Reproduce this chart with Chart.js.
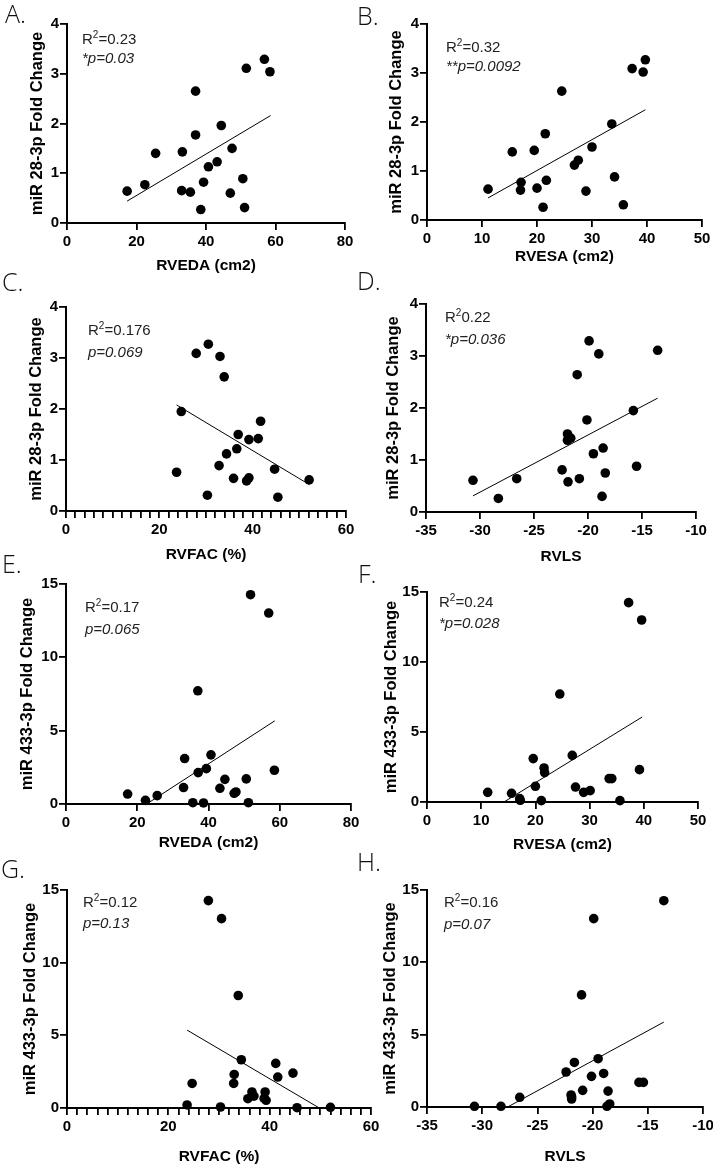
<!DOCTYPE html>
<html>
<head>
<meta charset="utf-8">
<script src="https://cdn.jsdelivr.net/npm/chart.js@4/dist/chart.umd.min.js"></script>
<style>
  body { margin: 0; background: #fff; }
  #page { position: relative; width: 713px; height: 1166px; overflow: hidden; }
  .plot { position: absolute; }
  .tag { position: absolute; font-family: "Open Sans", sans-serif; font-weight: 300; font-size: 25px; line-height: 25px; color: #111; }
  .note { position: absolute; font-family: "Liberation Sans", Arial, sans-serif; font-size: 15px; line-height: 15px; color: #222; white-space: nowrap; }
  .note i { font-style: italic; }
  .sup { font-size: 10px; position: relative; top: -6px; }
</style>
</head>
<body>
<div id="page"></div>
<script>
// A: miR 28-3p vs RVEDA
const rvedaA = [17.3, 22.4, 25.5, 33.2, 33.0, 35.5, 37.0, 37.0, 38.5, 39.3, 40.7, 43.2, 44.4, 47.0, 47.5, 50.6, 51.1, 51.6, 56.8, 58.4];
const mir28A = [0.64, 0.77, 1.40, 1.43, 0.65, 0.62, 2.65, 1.77, 0.27, 0.82, 1.13, 1.23, 1.96, 0.60, 1.50, 0.89, 0.31, 3.11, 3.29, 3.04];
const fitAx = [17.3, 58.6];
const fitAy = [0.44, 2.16];

// B: miR 28-3p vs RVESA
const rvesaB = [11.1, 15.5, 17.1, 17.0, 19.5, 20.0, 21.1, 21.5, 21.7, 24.5, 26.8, 27.5, 28.9, 30.0, 33.6, 34.1, 35.7, 37.3, 39.3, 39.7];
const mir28B = [0.63, 1.39, 0.77, 0.61, 1.42, 0.65, 0.26, 1.76, 0.81, 2.63, 1.12, 1.22, 0.59, 1.49, 1.96, 0.88, 0.31, 3.09, 3.02, 3.27];
const fitBx = [11.1, 39.7];
const fitBy = [0.45, 2.25];

// C: miR 28-3p vs RVFAC
const rvfacC = [23.7, 24.7, 27.9, 30.5, 30.3, 33.0, 32.8, 33.9, 34.4, 35.9, 36.6, 36.9, 38.7, 39.2, 39.2, 41.2, 41.7, 44.7, 45.4, 52.1];
const mir28C = [0.76, 1.95, 3.09, 3.27, 0.31, 3.03, 0.89, 2.63, 1.12, 0.64, 1.22, 1.50, 0.59, 0.65, 1.40, 1.42, 1.76, 0.82, 0.27, 0.61];
const fitCx = [23.7, 52.1];
const fitCy = [2.08, 0.52];

// D: miR 28-3p vs RVLS
const rvlsD = [-30.65, -28.3, -26.6, -22.4, -21.9, -21.9, -21.6, -21.85, -21.0, -20.8, -20.1, -19.9, -19.5, -19.0, -18.6, -18.7, -18.4, -15.8, -15.5, -13.55];
const mir28D = [0.61, 0.26, 0.64, 0.81, 1.50, 1.38, 1.42, 0.58, 2.64, 0.64, 1.77, 3.29, 1.12, 3.04, 1.23, 0.30, 0.75, 1.95, 0.88, 3.11];
const fitDx = [-30.65, -13.55];
const fitDy = [0.31, 2.19];

// E: miR 433-3p vs RVEDA
const rvedaE = [17.3, 22.3, 25.6, 33.3, 33.0, 35.6, 37.0, 37.1, 38.6, 39.4, 40.7, 43.2, 44.6, 47.2, 47.7, 50.6, 51.2, 51.8, 56.9, 58.5];
const mir433E = [0.68, 0.25, 0.57, 3.10, 1.12, 0.09, 7.72, 2.14, 0.07, 2.41, 3.35, 1.07, 1.68, 0.73, 0.82, 1.71, 0.09, 14.27, 13.02, 2.30];
const fitEx = [23.1, 58.6];
const fitEy = [0.07, 5.67];

// F: miR 433-3p vs RVESA
const rvesaF = [11.2, 15.6, 17.1, 17.2, 19.6, 20.0, 21.1, 21.6, 21.7, 24.5, 26.8, 27.4, 28.9, 30.1, 33.6, 34.1, 35.6, 37.2, 39.2, 39.6];
const mir433F = [0.69, 0.62, 0.24, 0.12, 3.10, 1.12, 0.10, 2.43, 2.10, 7.71, 3.33, 1.07, 0.69, 0.81, 1.67, 1.67, 0.10, 14.24, 2.31, 13.0];
const fitFx = [14.2, 39.7];
const fitFy = [0.0, 6.07];

// G: miR 433-3p vs RVFAC
const rvfacG = [23.7, 24.7, 27.9, 30.3, 30.5, 32.9, 33.0, 33.8, 34.4, 35.7, 36.5, 36.9, 38.9, 39.1, 39.3, 41.2, 41.6, 44.6, 45.4, 52.0];
const mir433G = [0.21, 1.69, 14.27, 0.07, 13.03, 1.69, 2.31, 7.74, 3.32, 0.64, 1.10, 0.82, 0.66, 1.10, 0.53, 3.07, 2.13, 2.40, 0.02, 0.05];
const fitGx = [23.7, 49.8];
const fitGy = [5.36, 0.0];

// H: miR 433-3p vs RVLS
const rvlsH = [-30.7, -28.3, -26.6, -22.4, -21.95, -21.9, -21.9, -21.65, -20.9, -21.0, -20.1, -19.9, -19.5, -19.0, -18.6, -18.7, -18.45, -15.8, -15.4, -13.55];
const mir433H = [0.05, 0.05, 0.67, 2.42, 0.83, 0.55, 0.70, 3.08, 1.15, 7.75, 2.12, 13.02, 3.34, 2.32, 1.10, 0.05, 0.21, 1.70, 1.70, 14.26];
const fitHx = [-27.7, -13.55];
const fitHy = [0.0, 5.87];

const yTitle28 = 'miR 28-3p Fold Change';
const yTitle433 = 'miR 433-3p Fold Change';

// panel setup: data + axis ranges, then where the plot area sits on the page
const panels = [
  { tag: 'A.', x: rvedaA, y: mir28A, fx: fitAx, fy: fitAy, xr: [0, 80, 20, 20], yr: [4, 1], xt: 'RVEDA (cm2)', yt: yTitle28,
    r2: '=0.23', p: '*p=0.03', box: [67, 345, 24, 223], ytx: 38, xto: 43, tagAt: [5, 1], noteAt: [82, 44, 63] },
  { tag: 'B.', x: rvesaB, y: mir28B, fx: fitBx, fy: fitBy, xr: [0, 50, 10, 10], yr: [4, 1], xt: 'RVESA (cm2)', yt: yTitle28,
    r2: '=0.32', p: '**p=0.0092', box: [427, 702, 24, 220], ytx: 397, xto: 37, tagAt: [357, 3], noteAt: [446, 52, 71] },
  { tag: 'C.', x: rvfacC, y: mir28C, fx: fitCx, fy: fitCy, xr: [0, 60, 2, 20], yr: [4, 1], xt: 'RVFAC (%)', yt: yTitle28,
    r2: '=0.176', p: 'p=0.069', box: [66, 346, 307, 511], ytx: 37, xto: 44, tagAt: [2, 269], noteAt: [88, 335, 357] },
  { tag: 'D.', x: rvlsD, y: mir28D, fx: fitDx, fy: fitDy, xr: [-35, -10, 5, 5], yr: [4, 1], xt: 'RVLS', yt: yTitle28,
    r2: '0.22', p: '*p=0.036', box: [426, 696, 304, 512], ytx: 394, xto: 45, tagAt: [357, 268], noteAt: [445, 322, 344] },
  { tag: 'E.', x: rvedaE, y: mir433E, fx: fitEx, fy: fitEy, xr: [0, 80, 20, 20], yr: [15, 5], xt: 'RVEDA (cm2)', yt: yTitle433,
    r2: '=0.17', p: 'p=0.065', box: [66, 351, 584, 804], ytx: 28, xto: 39, tagAt: [2, 551], noteAt: [85, 612, 634] },
  { tag: 'F.', x: rvesaF, y: mir433F, fx: fitFx, fy: fitFy, xr: [0, 50, 10, 10], yr: [15, 5], xt: 'RVESA (cm2)', yt: yTitle433,
    r2: '=0.24', p: '*p=0.028', box: [427, 698, 592, 802], ytx: 392, xto: 43, tagAt: [358, 561], noteAt: [439, 607, 628] },
  { tag: 'G.', x: rvfacG, y: mir433G, fx: fitGx, fy: fitGy, xr: [0, 60, 2, 20], yr: [15, 5], xt: 'RVFAC (%)', yt: yTitle433,
    r2: '=0.12', p: 'p=0.13', box: [67, 371, 890, 1108], ytx: 31, xto: 49, tagAt: [1, 856], noteAt: [83, 907, 928] },
  { tag: 'H.', x: rvlsH, y: mir433H, fx: fitHx, fy: fitHy, xr: [-35, -10, 5, 5], yr: [15, 5], xt: 'RVLS', yt: yTitle433,
    r2: '=0.16', p: 'p=0.07', box: [427, 703, 890, 1107], ytx: 391, xto: 50, tagAt: [357, 849], noteAt: [444, 907, 929] }
];

const FONT = '"Liberation Sans", Arial, sans-serif';
const page = document.getElementById('page');

function addPanel(p) {
  const [L, R, T, B] = p.box;
  const yTitleSize = 16.5;
  const yw = Math.round(L - p.ytx + yTitleSize * 0.6 + 4);
  const xh = p.xto + 9 + 4;
  const padTop = 12, padRight = 18;

  const wrap = document.createElement('div');
  wrap.className = 'plot';
  wrap.style.left = (L - yw) + 'px';
  wrap.style.top = (T - padTop) + 'px';
  wrap.style.width = (yw + (R - L) + padRight) + 'px';
  wrap.style.height = (padTop + (B - T) + xh) + 'px';
  const cv = document.createElement('canvas');
  wrap.appendChild(cv);
  page.appendChild(wrap);

  const pts = p.x.map((v, i) => ({ x: v, y: p.y[i] }));
  const fit = p.fx.map((v, i) => ({ x: v, y: p.fy[i] }));
  const [xMin, xMax, xStep, xLabelEvery] = p.xr;

  new Chart(cv, {
    type: 'scatter',
    data: {
      datasets: [
        { data: fit, showLine: true, borderColor: '#000', borderWidth: 1, pointRadius: 0, clip: false },
        { data: pts, backgroundColor: '#000', borderColor: '#000', pointRadius: 4.8, borderWidth: 0, clip: false }
      ]
    },
    options: {
      responsive: true,
      maintainAspectRatio: false,
      animation: false,
      layout: { padding: { top: padTop, right: padRight, left: 0, bottom: 0 } },
      plugins: { legend: { display: false }, tooltip: { enabled: false } },
      scales: {
        x: {
          type: 'linear', min: xMin, max: xMax,
          afterFit: s => { s.height = xh; },
          ticks: {
            stepSize: xStep, autoSkip: false, maxRotation: 0, padding: 3, color: '#000',
            font: { family: FONT, size: 15, weight: 'bold' },
            callback: v => (Math.abs(v % xLabelEvery) < 1e-6 ? v : '')
          },
          grid: { drawOnChartArea: false, color: '#000', lineWidth: 1.8, tickLength: 7 },
          border: { color: '#000', width: 2 },
          title: { display: true, text: p.xt, color: '#000', padding: 4, font: { family: FONT, size: 15.5, weight: 'bold' } }
        },
        y: {
          min: 0, max: p.yr[0],
          afterFit: s => { s.width = yw; },
          ticks: { stepSize: p.yr[1], padding: 1, color: '#000', font: { family: FONT, size: 15, weight: 'bold' } },
          grid: { drawOnChartArea: false, color: '#000', lineWidth: 1.8, tickLength: 7 },
          border: { color: '#000', width: 2 },
          title: { display: true, text: p.yt, color: '#000', padding: 4, font: { family: FONT, size: yTitleSize, weight: 'bold' } }
        }
      }
    }
  });

  const tag = document.createElement('div');
  tag.className = 'tag';
  tag.textContent = p.tag;
  tag.style.left = p.tagAt[0] + 'px';
  tag.style.top = p.tagAt[1] + 'px';
  page.appendChild(tag);

  const [nx, b1, b2] = p.noteAt;
  const n1 = document.createElement('div');
  n1.className = 'note';
  n1.innerHTML = 'R<span class="sup">2</span>' + p.r2;
  n1.style.left = nx + 'px';
  n1.style.top = (b1 - 13) + 'px';
  page.appendChild(n1);
  const n2 = document.createElement('div');
  n2.className = 'note';
  n2.innerHTML = '<i>' + p.p + '</i>';
  n2.style.left = nx + 'px';
  n2.style.top = (b2 - 13) + 'px';
  page.appendChild(n2);
}

panels.forEach(addPanel);
</script>
</body>
</html>
